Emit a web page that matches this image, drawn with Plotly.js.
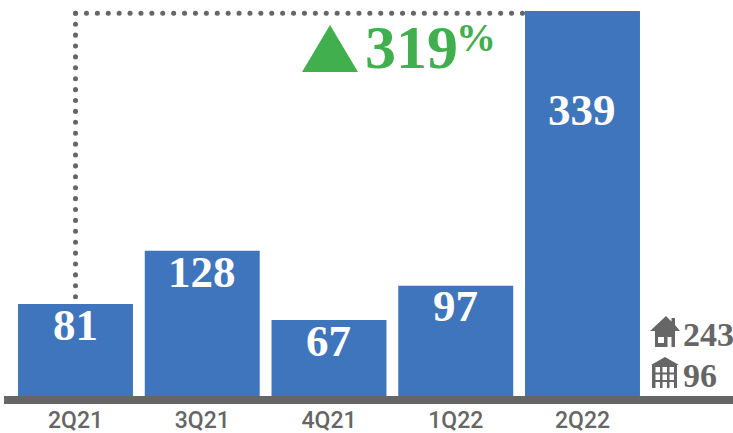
<!DOCTYPE html>
<html><head><meta charset="utf-8">
<script src="https://cdn.plot.ly/plotly-3.0.1.min.js"></script>
<style>html,body{margin:0;padding:0;background:#fff}.scatterlayer .js-line{stroke-linecap:round}</style>
</head><body><div id="c" style="width:733px;height:433px"></div>
<script>
const categories=['2Q21','3Q21','4Q21','1Q22','2Q22'];
const values=[81,128,67,97,339];
const labelDrop=[21,21,21,20,99];
const growth='319';
const residential=243, commercial=96;
const W=733,H=433,L=4,B=396;
const GREY='#666666',BLUE='#3F75BC',GREEN='#41AF4D',SERIF='"Liberation Serif",serif';
const fx=p=>(p-L)/(W-L), fy=p=>(B-p)/B;
const path=s=>s.replace(/(-?[\d.]+),(-?[\d.]+)/g,(m,a,b)=>fx(+a).toFixed(5)+','+fy(+b).toFixed(5));
const houseP='M666,316 L671.5,321.5 L671.5,318 L675,318 L675,325 L680,331 L675,331 L675,347 L667.5,347 L667.5,337 L671.5,337 L671.5,347 L655,347 L655,331 L650,331 Z M658,337 L664,337 L664,343 L658,343 Z';
const bld='M665,357 L679,365 L677,365 L677,388 L652,388 L652,365 L651,365 Z M655.5,367 L660,367 L660,372.5 L655.5,372.5 Z M662.5,367 L667,367 L667,372.5 L662.5,372.5 Z M669.5,367 L674,367 L674,372.5 L669.5,372.5 Z M655.5,374.5 L660,374.5 L660,380 L655.5,380 Z M662.5,374.5 L667,374.5 L667,380 L662.5,380 Z M669.5,374.5 L674,374.5 L674,380 L669.5,380 Z M655.5,382 L660,382 L660,388 L655.5,388 Z M669.5,382 L674,382 L674,388 L669.5,388 Z M662.5,382 L667,382 L667,388 L662.5,388 Z';
const pct=(t,x,y,size,color,anchor)=>({text:t,xref:'paper',yref:'paper',x:fx(x),y:fy(y),xanchor:anchor||'left',yanchor:'middle',showarrow:false,align:'left',font:{family:SERIF,size,color,weight:700}});
const shape=(d,color)=>({type:'path',xref:'paper',yref:'paper',path:path(d),fillcolor:color,fillrule:'evenodd',line:{width:0},layer:'above'});
const annos=values.map((v,i)=>({text:String(v),x:i,y:v,xref:'x',yref:'y',yshift:-labelDrop[i],xshift:-0.5,xanchor:'center',yanchor:'middle',showarrow:false,font:{family:SERIF,size:45,color:'#fff',weight:700}}));
annos.push(pct(growth,362.5,46.5,62,GREEN),pct('%',454,38,40,GREEN),pct(String(residential),681,334,34,GREY),pct(String(commercial),681,375,34,GREY));
const peakY=337;
const traces=[
 {type:'bar',x:[0,1,2,3,4],y:values,marker:{color:BLUE,line:{width:0}},width:0.907,hoverinfo:'skip'},
 {type:'scatter',mode:'lines',x:[0,3.54,null,0,0],y:[peakY,peakY,null,peakY,values[0]],line:{color:GREY,width:5,dash:'0.1px,10.8px'},hoverinfo:'skip'}
];
Plotly.newPlot('c',traces,{
 width:W,height:H,showlegend:false,paper_bgcolor:'#fff',plot_bgcolor:'#fff',
 margin:{l:L,r:0,t:0,b:H-B,pad:0},
 xaxis:{type:'linear',range:[(L-75.5)/126.75,(W-75.5)/126.75],tickvals:[0,1,2,3,4],ticktext:categories,showgrid:false,zeroline:false,showline:true,linecolor:GREY,linewidth:8,ticks:'',ticklabelstandoff:-4,tickfont:{family:'Roboto',size:23,color:GREY,weight:500}},
 yaxis:{range:[0,B/1.1357],visible:false,fixedrange:true},
 annotations:annos,
 shapes:[shape('M330,25 L358,72 L302,72 Z',GREEN),shape(houseP,GREY),shape(bld,GREY)]
},{displayModeBar:false,staticPlot:true});
</script></body></html>
